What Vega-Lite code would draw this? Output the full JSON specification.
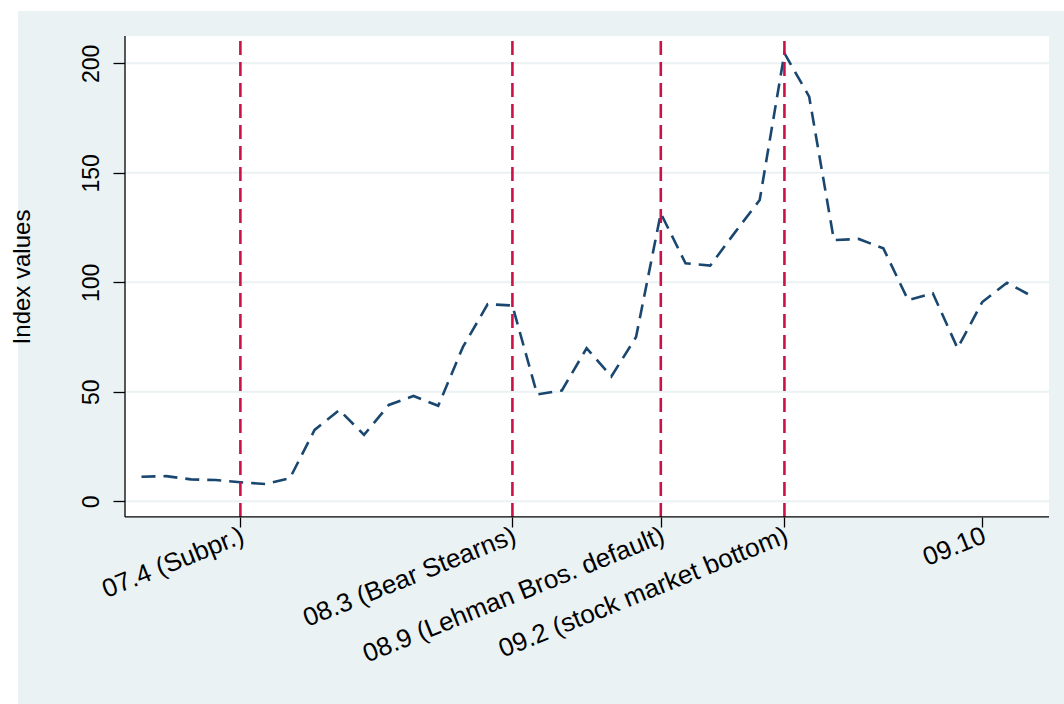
{
  "$schema": "https://vega.github.io/schema/vega-lite/v6.json",
  "width": 1046,
  "height": 693,
  "autosize": "none",
  "padding": {"left": 18, "top": 11, "right": 0, "bottom": 0},
  "background": "white",
  "config": {
    "view": {"fill": "#EAF2F3", "stroke": null},
    "font": "Liberation Sans",
    "axis": {
      "labelFont": "Liberation Sans",
      "titleFont": "Liberation Sans",
      "labelColor": "black",
      "titleColor": "black",
      "domainColor": "black",
      "tickColor": "black",
      "domainWidth": 1.3,
      "tickWidth": 1.3
    }
  },
  "datasets": {
    "series": [
      {"m": -4, "v": 11.2}, {"m": -3, "v": 11.5}, {"m": -2, "v": 10.0}, {"m": -1, "v": 9.7},
      {"m": 0, "v": 8.7}, {"m": 1, "v": 7.9}, {"m": 2, "v": 10.5}, {"m": 3, "v": 32.6},
      {"m": 4, "v": 41.7}, {"m": 5, "v": 30.3}, {"m": 6, "v": 44.0}, {"m": 7, "v": 48.1},
      {"m": 8, "v": 43.6}, {"m": 9, "v": 70.5}, {"m": 10, "v": 90.0}, {"m": 11, "v": 89.4},
      {"m": 12, "v": 48.8}, {"m": 13, "v": 50.6}, {"m": 14, "v": 69.9}, {"m": 15, "v": 57.0},
      {"m": 16, "v": 75.0}, {"m": 17, "v": 131.5}, {"m": 18, "v": 108.7}, {"m": 19, "v": 107.6},
      {"m": 20, "v": 122.8}, {"m": 21, "v": 137.6}, {"m": 22, "v": 204.6}, {"m": 23, "v": 184.8},
      {"m": 24, "v": 119.3}, {"m": 25, "v": 119.8}, {"m": 26, "v": 115.5}, {"m": 27, "v": 91.9},
      {"m": 28, "v": 95.0}, {"m": 29, "v": 69.9}, {"m": 30, "v": 91.0}, {"m": 31, "v": 99.8},
      {"m": 32, "v": 93.7}
    ],
    "events": [
      {"m": 0, "event": "Subprime"},
      {"m": 11, "event": "Bear Stearns"},
      {"m": 17, "event": "Lehman Bros. default"},
      {"m": 22, "event": "stock market bottom"}
    ],
    "ticks": [{"v": 0}, {"v": 50}, {"v": 100}, {"v": 150}, {"v": 200}]
  },
  "layer": [
    {
      "data": {"values": [{}]},
      "mark": {"type": "rect", "color": "white"},
      "encoding": {
        "x": {"datum": -4.666, "type": "quantitative", "scale": {"domain": [-8.993, 33.305], "nice": false, "zero": false}},
        "x2": {"datum": 32.7},
        "y": {"datum": -7.15, "type": "quantitative", "scale": {"domain": [-92.56, 223.88], "nice": false, "zero": false}},
        "y2": {"datum": 212.47}
      }
    },
    {
      "data": {"name": "ticks"},
      "mark": {"type": "rule", "color": "#EAF2F3", "strokeWidth": 2},
      "encoding": {
        "y": {"field": "v", "type": "quantitative"},
        "x": {"datum": -4.666},
        "x2": {"datum": 32.7}
      }
    },
    {
      "data": {"name": "series"},
      "mark": {"type": "line", "color": "#1A476F", "strokeWidth": 2.6, "strokeDash": [14, 8]},
      "encoding": {
        "x": {
          "field": "m",
          "type": "quantitative",
          "axis": {
            "title": null,
            "offset": -187,
            "domain": false,
            "values": [0, 11, 17, 22, 30],
            "labelExpr": "datum.value == 0 ? '07.4 (Subpr.)' : datum.value == 11 ? '08.3 (Bear Stearns)' : datum.value == 17 ? '08.9 (Lehman Bros. default)' : datum.value == 22 ? '09.2 (stock market bottom)' : '09.10'",
            "labelAngle": -22,
            "labelAlign": "right",
            "labelBaseline": "top",
            "labelFontSize": 26,
            "labelPadding": -5,
            "labelOffset": -3,
            "labelLimit": 600,
            "tickSize": 10,
            "grid": false,
            "labelOverlap": false,
            "labelBound": false,
            "labelFlush": false
          }
        },
        "y": {
          "field": "v",
          "type": "quantitative",
          "axis": {
            "title": "Index values",
            "offset": -107,
            "domain": false,
            "titleFontSize": 24,
            "titleFontWeight": "normal",
            "titleAngle": -90,
            "titleAlign": "center",
            "titleBaseline": "alphabetic",
            "titleX": -96,
            "titleY": 265.5,
            "values": [0, 50, 100, 150, 200],
            "labelAngle": -90,
            "labelAlign": "center",
            "labelBaseline": "alphabetic",
            "labelFontSize": 23,
            "labelPadding": 15,
            "tickSize": 12,
            "grid": false,
            "labelOverlap": false,
            "labelFlush": false
          }
        }
      }
    },
    {
      "data": {"name": "events"},
      "mark": {"type": "rule", "color": "#CC1148", "strokeWidth": 2.6, "strokeDash": [14, 7]},
      "encoding": {
        "x": {"field": "m", "type": "quantitative"},
        "y": {"datum": -7.15},
        "y2": {"datum": 212.47}
      }
    },
    {
      "data": {"values": [{}]},
      "mark": {"type": "rule", "color": "black", "strokeWidth": 1.3},
      "encoding": {
        "x": {"datum": -4.666},
        "x2": {"datum": 32.7},
        "y": {"datum": -7.15}
      }
    },
    {
      "data": {"values": [{}]},
      "mark": {"type": "rule", "color": "black", "strokeWidth": 1.3},
      "encoding": {
        "x": {"datum": -4.666},
        "y": {"datum": -7.15},
        "y2": {"datum": 212.47}
      }
    }
  ]
}
